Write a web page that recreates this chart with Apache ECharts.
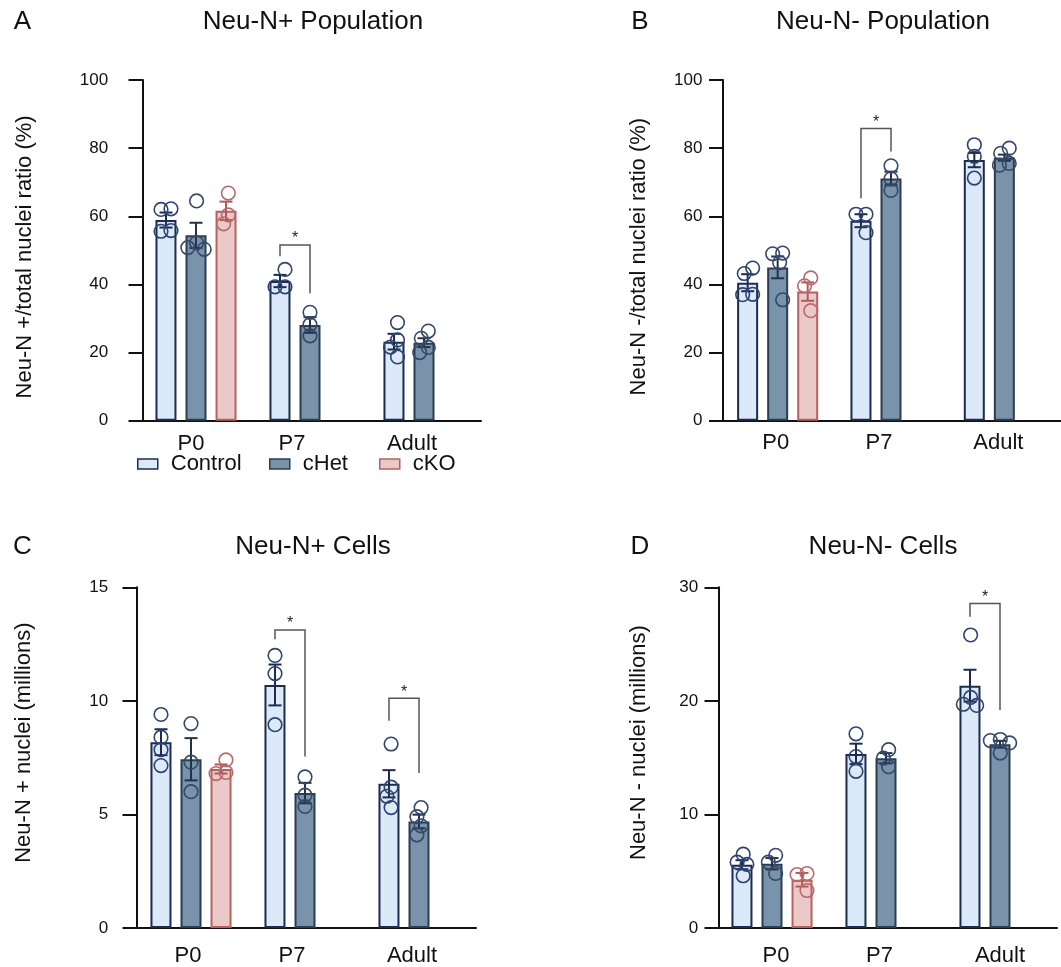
<!DOCTYPE html>
<html><head><meta charset="utf-8">
<script src="https://cdn.jsdelivr.net/npm/echarts@6/dist/echarts.min.js"></script>
<style>html,body{margin:0;padding:0;background:#fff}#chart{width:1061px;height:967px}</style>
</head><body><div id="chart"></div>
<script>
// ---------- data ----------
const categories = ['P0', 'P7', 'Adult'];
const groups = ['Control', 'cHet', 'cKO'];

// Panel A: Neu-N+ population (%)
const aTicks = [0, 20, 40, 60, 80, 100];
const aMean = [[58.9, 41.0, 23.2], [54.4, 28.1, 22.9], [61.6, null, null]];
const aSem  = [[2.2, 1.8, 2.3], [3.7, 2.3, 1.3], [2.7, null, null]];
const aPts  = [
  [[62.2, 62.0, 55.8, 55.6], [44.4, 39.3, 39.3], [28.8, 23.7, 21.6, 18.7]],
  [[64.5, 52.2, 50.8, 50.3], [31.8, 28.2, 24.9], [26.3, 24.2, 21.5, 20.0]],
  [[66.8, 60.4, 57.8], null, null]
];
const aSig = [[1, 0, 1, 51.6, 48.3, 37.4]];

// Panel B: Neu-N- population (%)
const bTicks = [0, 20, 40, 60, 80, 100];
const bMean = [[40.5, 58.7, 76.5], [45.0, 71.1, 77.2], [37.9, null, null]];
const bSem  = [[2.5, 1.9, 2.1], [3.2, 2.0, 0.9], [2.7, null, null]];
const bPts  = [
  [[44.8, 43.2, 37.1, 37.0], [60.6, 60.6, 55.2], [81.0, 77.6, 71.2]],
  [[49.2, 49.0, 46.4, 35.5], [74.8, 71.0, 67.6], [80.0, 78.5, 75.5, 75.0]],
  [[41.9, 39.6, 32.3], null, null]
];
const bSig = [[1, 0, 1, 85.8, 65.3, 79.0]];

// Panel C: Neu-N+ cells (millions)
const cTicks = [0, 5, 10, 15];
const cMean = [[8.18, 10.70, 6.35], [7.43, 5.94, 4.69], [7.0, null, null]];
const cSem  = [[0.57, 0.9, 0.6], [0.93, 0.45, 0.3], [0.2, null, null]];
const cPts  = [
  [[9.4, 8.4, 7.85, 7.15], [12.0, 11.2, 8.95], [8.1, 6.2, 5.8, 5.3]],
  [[9.0, 7.3, 6.0], [6.65, 5.85, 5.35], [5.3, 4.9, 4.5, 4.1]],
  [[7.4, 6.85, 6.8], null, null]
];
const cSig = [[1, 0, 1, 13.12, 12.71, 7.55], [2, 0, 1, 10.12, 9.13, 6.82]];

// Panel D: Neu-N- cells (millions)
const dTicks = [0, 10, 20, 30];
const dMean = [[5.57, 15.33, 21.34], [5.66, 14.95, 16.18], [4.25, null, null]];
const dSem  = [[0.4, 0.9, 1.4], [0.5, 0.45, 0.3], [0.6, null, null]];
const dPts  = [
  [[6.5, 5.8, 5.6, 4.6], [17.1, 15.1, 13.8], [25.8, 20.3, 19.7, 19.6]],
  [[6.4, 5.8, 4.8], [15.7, 14.95, 14.2], [16.6, 16.5, 16.3, 15.4]],
  [[4.8, 4.7, 3.3], null, null]
];
const dSig = [[2, 0, 1, 28.58, 27.4, 19.2]];

// ---------- styles ----------
const FONT = '"Liberation Sans", Arial, Helvetica, sans-serif';
const fillC   = ['#dce9f8', '#7893aa', '#ebc9c9'];
const borderC = ['#1c2b4f', '#2c3c52', '#b5625f'];
const errC    = ['#1c2b4f', '#23324a', '#b05a5a'];
const dotC    = ['#2d4470', '#34486a', '#b86b6b'];
const SLOT = 30; // bar width + gap

const panels = [
  {letter:'A', title:'Neu-N+ Population', yName:'Neu-N +/total nuclei ratio (%)', ticks:aTicks, mean:aMean, sem:aSem, pts:aPts, sig:aSig,
   grid:{left:139, top:80, width:342, height:340.7}, yOff:-3.5, yLabM:34.4, nameGap:107, namePad:[0,13,0,0], xLabM:12, shifts:[-5,-18,-12],
   titleX:313, titleY:22, letterX:22.5, letterY:22},
  {letter:'B', title:'Neu-N- Population', yName:'Neu-N -/total nuclei ratio (%)', ticks:bTicks, mean:bMean, sem:bSem, pts:bPts, sig:bSig,
   grid:{left:721, top:80, width:342, height:340.7}, yOff:-2, yLabM:20.6, nameGap:73, namePad:[0,12.6,0,0], xLabM:11, shifts:[-2,-12,-6],
   titleX:883, titleY:22, letterX:640, letterY:22},
  {letter:'C', title:'Neu-N+ Cells', yName:'Neu-N + nuclei (millions)', ticks:cTicks, mean:cMean, sem:cSem, pts:cPts, sig:cSig,
   grid:{left:134, top:587.3, width:342, height:341}, yOff:-2.5, yLabM:28.4, nameGap:102, namePad:[0,0,0,30], xLabM:17, shifts:[-3,-13,-7],
   titleX:313, titleY:547, letterX:22.5, letterY:547},
  {letter:'D', title:'Neu-N- Cells', yName:'Neu-N - nuclei (millions)', ticks:dTicks, mean:dMean, sem:dSem, pts:dPts, sig:dSig,
   grid:{left:715, top:587.3, width:342, height:341}, yOff:-3.5, yLabM:20.4, nameGap:69, namePad:[0,0,0,30], xLabM:17, shifts:[4,-6.5,0],
   titleX:883, titleY:547, letterX:640, letterY:547}
];

// beeswarm arrangement of points (pixel space) so circles do not stack
function swarm(ys, minD) {
  const order = ys.map((y, i) => i).sort((a, b) => ys[a] - ys[b]);
  const xs = new Array(ys.length).fill(0);
  const placed = [];
  for (const i of order) {
    const cands = [0];
    for (const j of placed) {
      const dy = Math.abs(ys[i] - ys[j]);
      if (dy < minD) { const w = Math.sqrt(minD * minD - dy * dy); cands.push(xs[j] - w, xs[j] + w); }
    }
    cands.sort((a, b) => Math.abs(a) - Math.abs(b) || a - b);
    let best = 0;
    for (const x of cands) {
      let ok = true;
      for (const j of placed) {
        const dx = x - xs[j], dy = ys[i] - ys[j];
        if (dx * dx + dy * dy < minD * minD - 0.01) { ok = false; break; }
      }
      if (ok) { best = x; break; }
    }
    xs[i] = best; placed.push(i);
  }
  const mn = Math.min(...xs), mx = Math.max(...xs), sh = (mn + mx) / 2;
  return xs.map(x => x - sh);
}

const option = {
  animation: false,
  backgroundColor: '#fff',
  textStyle: {fontFamily: FONT},
  title: [], grid: [], xAxis: [], yAxis: [], series: [],
  legend: groups.map((g, gi) => ({
    data: [{name: g, itemStyle: {color: fillC[gi], borderColor: borderC[gi], borderWidth: 1.5}}],
    left: [137, 269, 379][gi], top: 453, padding: 0,
    icon: 'rect', itemWidth: 20, itemHeight: 10,
    textStyle: {fontSize: 22, color: '#111', fontFamily: FONT, padding: [0, 0, 0, 8]}
  }))
};

panels.forEach((p, idx) => {
  option.title.push({text: p.title, left: p.titleX, top: p.titleY, textAlign: 'center', textVerticalAlign: 'middle', padding: 0,
    textStyle: {fontSize: 26, fontWeight: 'normal', color: '#111', fontFamily: FONT}});
  option.title.push({text: p.letter, left: p.letterX, top: p.letterY, textAlign: 'center', textVerticalAlign: 'middle', padding: 0,
    textStyle: {fontSize: 26, fontWeight: 'normal', color: '#111', fontFamily: FONT}});
  option.grid.push(p.grid);
  const rich = {};
  p.shifts.forEach((s, i) => {
    rich['c' + i] = {fontSize: 22, color: '#111', fontFamily: FONT,
      padding: s < 0 ? [0, -2 * s, 0, 0] : [0, 0, 0, 2 * s]};
  });
  option.xAxis.push({
    type: 'category', gridIndex: idx, data: categories,
    axisLine: {lineStyle: {color: '#111', width: 2}},
    axisTick: {show: false},
    axisLabel: {margin: p.xLabM, interval: 0, formatter: (v, i) => '{c' + i + '|' + v + '}', rich}
  });
  const t = p.ticks;
  option.yAxis.push({
    type: 'value', gridIndex: idx, min: t[0], max: t[t.length - 1], interval: t[1] - t[0],
    offset: p.yOff,
    name: p.yName, nameLocation: 'middle', nameGap: p.nameGap,
    nameTextStyle: {fontSize: 22, color: '#111', fontFamily: FONT, padding: p.namePad},
    axisLine: {show: true, lineStyle: {color: '#111', width: 2}},
    axisTick: {show: true, length: 14, lineStyle: {color: '#111', width: 2}},
    axisLabel: {margin: p.yLabM, fontSize: 17, color: '#111', fontFamily: FONT},
    splitLine: {show: false}
  });
  groups.forEach((g, gi) => {
    option.series.push({
      type: 'bar', name: g, xAxisIndex: idx, yAxisIndex: idx,
      barWidth: 21, barGap: '43%',
      data: p.mean[gi].map(v => v == null ? '-' : v),
      itemStyle: {color: fillC[gi], borderColor: borderC[gi], borderWidth: 2},
      emphasis: {disabled: true}
    });
  });
  groups.forEach((g, gi) => {
    const mean = p.mean[gi], sem = p.sem[gi], pts = p.pts[gi];
    const data = [];
    mean.forEach((m, ci) => { if (m != null) data.push([ci, m]); });
    option.series.push({
      type: 'custom', name: g, xAxisIndex: idx, yAxisIndex: idx, z: 4, silent: true,
      data: data, encode: {x: 0, y: 1},
      renderItem: function (params, api) {
        const ci = api.value(0), m = api.value(1);
        const c = api.coord([ci, m]);
        const x0 = c[0] + (gi - 1) * SLOT;
        const yHi = api.coord([ci, m + sem[ci]])[1];
        const yLo = api.coord([ci, m - sem[ci]])[1];
        const ys = pts[ci].map(v => api.coord([ci, v])[1]);
        const xs = swarm(ys, 10);
        const es = {stroke: errC[gi], lineWidth: 2};
        const children = [
          {type: 'line', shape: {x1: x0, y1: yHi, x2: x0, y2: yLo}, style: es},
          {type: 'line', shape: {x1: x0 - 6.5, y1: yHi, x2: x0 + 6.5, y2: yHi}, style: es},
          {type: 'line', shape: {x1: x0 - 6.5, y1: yLo, x2: x0 + 6.5, y2: yLo}, style: es}
        ];
        ys.forEach((y, k) => children.push({type: 'circle', shape: {cx: x0 + xs[k], cy: y, r: 6.8},
          style: {fill: 'none', stroke: dotC[gi], lineWidth: 1.6}}));
        return {type: 'group', children: children};
      }
    });
  });
  option.series.push({
    type: 'custom', xAxisIndex: idx, yAxisIndex: idx, z: 5, silent: true,
    data: p.sig, encode: {x: 0, y: [3, 4, 5]},
    renderItem: function (params, api) {
      const ci = api.value(0), s1 = api.value(1), s2 = api.value(2);
      const top = api.coord([ci, api.value(3)]);
      const xL = top[0] + (s1 - 1) * SLOT, xR = top[0] + (s2 - 1) * SLOT;
      const yT = top[1];
      const yL = api.coord([ci, api.value(4)])[1], yR = api.coord([ci, api.value(5)])[1];
      return {type: 'group', children: [
        {type: 'polyline', shape: {points: [[xL, yL], [xL, yT], [xR, yT], [xR, yR]]}, style: {stroke: '#555', lineWidth: 1.5, fill: null}},
        {type: 'text', x: (xL + xR) / 2, y: yT - 6, style: {text: '*', fontSize: 16, fill: '#222', align: 'center', verticalAlign: 'middle', fontFamily: FONT}}
      ]};
    }
  });
});

const chart = echarts.init(document.getElementById('chart'), null, {renderer: 'canvas'});
chart.setOption(option);
</script>
</body></html>
